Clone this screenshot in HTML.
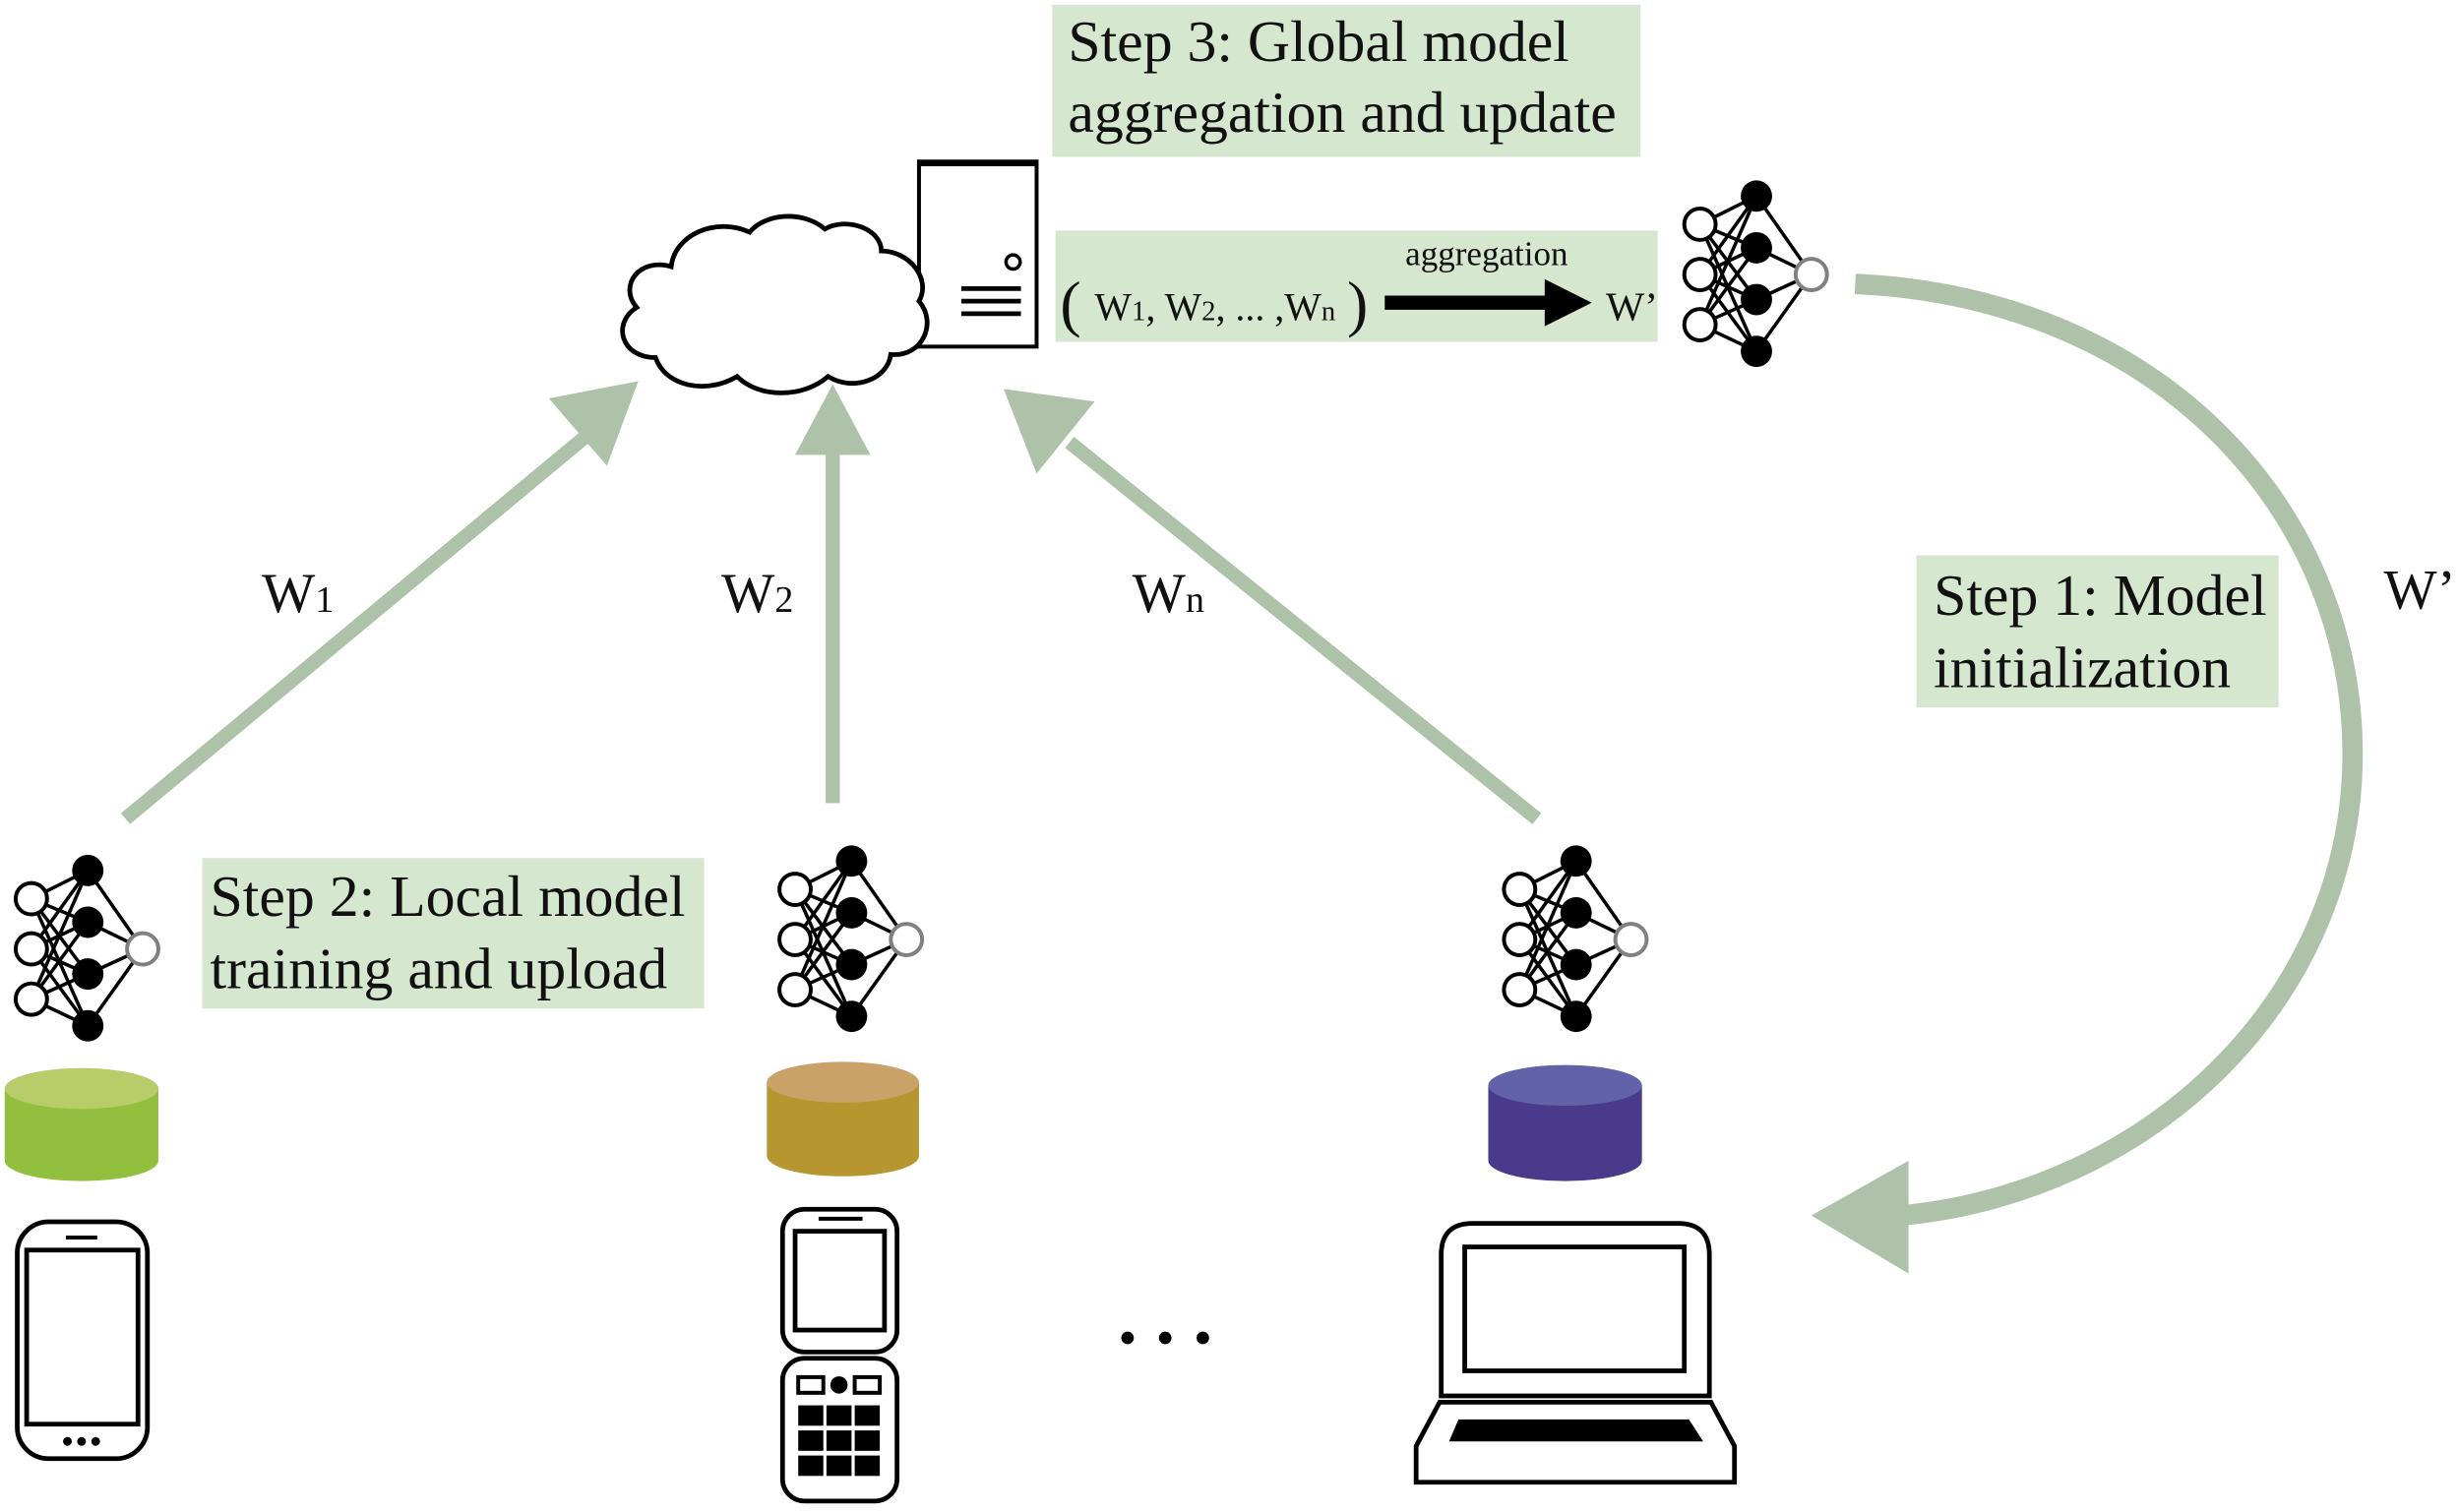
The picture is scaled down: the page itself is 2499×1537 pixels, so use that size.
<!DOCTYPE html>
<html><head><meta charset="utf-8"><style>
html,body{margin:0;padding:0;background:#fff;}
svg{display:block;}
text{font-family:"Liberation Serif",serif;fill:#111;}
</style></head><body>
<svg width="2499" height="1537" viewBox="0 0 1568 964" preserveAspectRatio="none" xmlns="http://www.w3.org/2000/svg">
<defs>
<g id="nn">
 <g stroke="#000" stroke-width="2.2" fill="none">
  <line x1="0" y1="0" x2="36" y2="-18"/><line x1="0" y1="0" x2="36" y2="15"/><line x1="0" y1="0" x2="36" y2="48"/><line x1="0" y1="0" x2="36" y2="81"/>
  <line x1="0" y1="32" x2="36" y2="-18"/><line x1="0" y1="32" x2="36" y2="15"/><line x1="0" y1="32" x2="36" y2="48"/><line x1="0" y1="32" x2="36" y2="81"/>
  <line x1="0" y1="64" x2="36" y2="-18"/><line x1="0" y1="64" x2="36" y2="15"/><line x1="0" y1="64" x2="36" y2="48"/><line x1="0" y1="64" x2="36" y2="81"/>
  <line x1="36" y1="-18" x2="71" y2="32"/><line x1="36" y1="15" x2="71" y2="32"/><line x1="36" y1="48" x2="71" y2="32"/><line x1="36" y1="81" x2="71" y2="32"/>
 </g>
 <g fill="#fff" stroke="#000" stroke-width="2.5"><circle cx="0" cy="0" r="10"/><circle cx="0" cy="32" r="10"/><circle cx="0" cy="64" r="10"/></g>
 <g fill="#000"><circle cx="36" cy="-18" r="10"/><circle cx="36" cy="15" r="10"/><circle cx="36" cy="48" r="10"/><circle cx="36" cy="81" r="10"/></g>
 <circle cx="71" cy="32" r="10" fill="#fff" stroke="#808080" stroke-width="2.5"/>
</g>
</defs>

<rect x="671" y="3" width="375" height="97" fill="#d6e7d0"/>
<text x="681" y="39" font-size="37.5">Step 3: Global model</text>
<text x="681" y="84" font-size="37.5">aggregation and update</text>

<rect x="586" y="103" width="75" height="118" fill="#fff" stroke="#000" stroke-width="2.5"/>
<line x1="585" y1="104" x2="662" y2="104" stroke="#000" stroke-width="4"/>
<circle cx="646" cy="167" r="4.5" fill="#fff" stroke="#000" stroke-width="2.2"/>
<g stroke="#000" stroke-width="3"><line x1="613" y1="184" x2="651" y2="184"/><line x1="613" y1="192" x2="651" y2="192"/><line x1="613" y1="200" x2="651" y2="200"/></g>

<path d="M418,228 C396,228 390,206 406,196 C394,182 408,164 428,170 C430,150 456,138 478,148 C488,136 512,134 526,146 C540,138 562,146 562,160 C580,160 594,178 586,192 C598,206 588,228 568,226 C566,242 544,250 528,240 C512,254 484,254 470,240 C450,252 424,246 418,228 Z" fill="#fff" stroke="#000" stroke-width="3"/>

<rect x="673" y="147" width="384" height="71" fill="#d6e7d0"/>
<text x="948" y="169" font-size="22" text-anchor="middle">aggregation</text>
<text x="676" y="207" font-size="40">(</text>
<text x="698" y="204" font-size="25">W<tspan font-size="18">1</tspan>, W<tspan font-size="18">2</tspan>, ... ,W<tspan font-size="18">n</tspan></text>
<text x="859" y="207" font-size="40">)</text>
<line x1="883" y1="193" x2="990" y2="193" stroke="#000" stroke-width="9"/>
<polygon points="1015,193 985,178 985,208" fill="#000"/>
<text x="1024" y="204" font-size="26">W’</text>

<use href="#nn" x="1084" y="143"/>

<path d="M1183,181 C1380,190 1505,330 1500,490 C1495,640 1370,760 1212,775" fill="none" stroke="#adc2a9" stroke-width="13"/>
<polygon points="1155,775 1217,740 1217,812" fill="#adc2a9"/>

<rect x="1222" y="354" width="231" height="97" fill="#d6e7d0"/>
<text x="1233" y="392" font-size="37.5">Step 1: Model</text>
<text x="1233" y="438" font-size="37.5">initialization</text>
<text x="1520" y="388" font-size="36">W’</text>

<g stroke="#adc2a9" stroke-width="9">
 <line x1="80" y1="522" x2="375" y2="277"/>
 <line x1="531" y1="512" x2="531" y2="285"/>
 <line x1="980" y1="522" x2="682" y2="282"/>
</g>
<g fill="#adc2a9">
 <polygon points="407,243 387,297 350,254"/>
 <polygon points="531,245 507,290 555,290"/>
 <polygon points="640,248 698,256 661,302"/>
</g>
<text x="167" y="390" font-size="36">W<tspan font-size="24">1</tspan></text>
<text x="460" y="390" font-size="36">W<tspan font-size="24">2</tspan></text>
<text x="722" y="390" font-size="36">W<tspan font-size="24">n</tspan></text>

<rect x="129" y="547" width="320" height="96" fill="#d6e7d0"/>
<text x="134" y="584" font-size="37.5">Step 2: Local model</text>
<text x="134" y="630" font-size="37.5">training and upload</text>

<use href="#nn" x="20" y="573"/>
<use href="#nn" x="507" y="567"/>
<use href="#nn" x="969" y="567"/>

<g>
 <path d="M3,694 L3,740 A49,13 0 0 0 101,740 L101,694 Z" fill="#92c03e"/>
 <ellipse cx="52" cy="694" rx="49" ry="13" fill="#b8cc6a"/>
 <path d="M489,690 L489,737 A48.5,13 0 0 0 586,737 L586,690 Z" fill="#b8962f"/>
 <ellipse cx="537.5" cy="690" rx="48.5" ry="13" fill="#cba16a"/>
 <path d="M949,692 L949,740 A49,13 0 0 0 1047,740 L1047,692 Z" fill="#4a3a8c"/>
 <ellipse cx="998" cy="692" rx="49" ry="13" fill="#6262a8"/>
</g>

<rect x="11" y="779" width="83" height="151" rx="20" fill="#fff" stroke="#000" stroke-width="3"/>
<rect x="17" y="797" width="71" height="111" fill="#fff" stroke="#000" stroke-width="3"/>
<line x1="42" y1="789" x2="62" y2="789" stroke="#000" stroke-width="2.5"/>
<circle cx="43" cy="919" r="2.8"/><circle cx="52" cy="919" r="2.8"/><circle cx="61" cy="919" r="2.8"/>

<rect x="499" y="771" width="73" height="91" rx="14" fill="#fff" stroke="#000" stroke-width="3"/>
<rect x="507" y="785" width="57" height="63" fill="#fff" stroke="#000" stroke-width="3"/>
<line x1="522" y1="777" x2="550" y2="777" stroke="#000" stroke-width="2.5"/>
<rect x="499" y="866" width="73" height="91" rx="14" fill="#fff" stroke="#000" stroke-width="3"/>
<rect x="509" y="878" width="16" height="10" fill="#fff" stroke="#000" stroke-width="2.5"/>
<rect x="545" y="878" width="16" height="10" fill="#fff" stroke="#000" stroke-width="2.5"/>
<circle cx="535" cy="883" r="5.5"/>
<g fill="#000">
 <rect x="509" y="896" width="16" height="13"/><rect x="527" y="896" width="16" height="13"/><rect x="545" y="896" width="16" height="13"/>
 <rect x="509" y="912" width="16" height="13"/><rect x="527" y="912" width="16" height="13"/><rect x="545" y="912" width="16" height="13"/>
 <rect x="509" y="928" width="16" height="13"/><rect x="527" y="928" width="16" height="13"/><rect x="545" y="928" width="16" height="13"/>
</g>

<circle cx="719" cy="853" r="4"/><circle cx="743" cy="853" r="4"/><circle cx="767" cy="853" r="4"/>

<path d="M919,890 L919,800 Q919,780 939,780 L1070,780 Q1090,780 1090,800 L1090,890 Z" fill="#fff" stroke="#000" stroke-width="3"/>
<rect x="934" y="795" width="140" height="79" fill="#fff" stroke="#000" stroke-width="3"/>
<path d="M918,894 L1091,894 L1106,922 L1106,945 L903,945 L903,922 Z" fill="#fff" stroke="#000" stroke-width="3"/>
<polygon points="930,905 1077,905 1086,919 924,919" fill="#000"/>
</svg>
</body></html>
